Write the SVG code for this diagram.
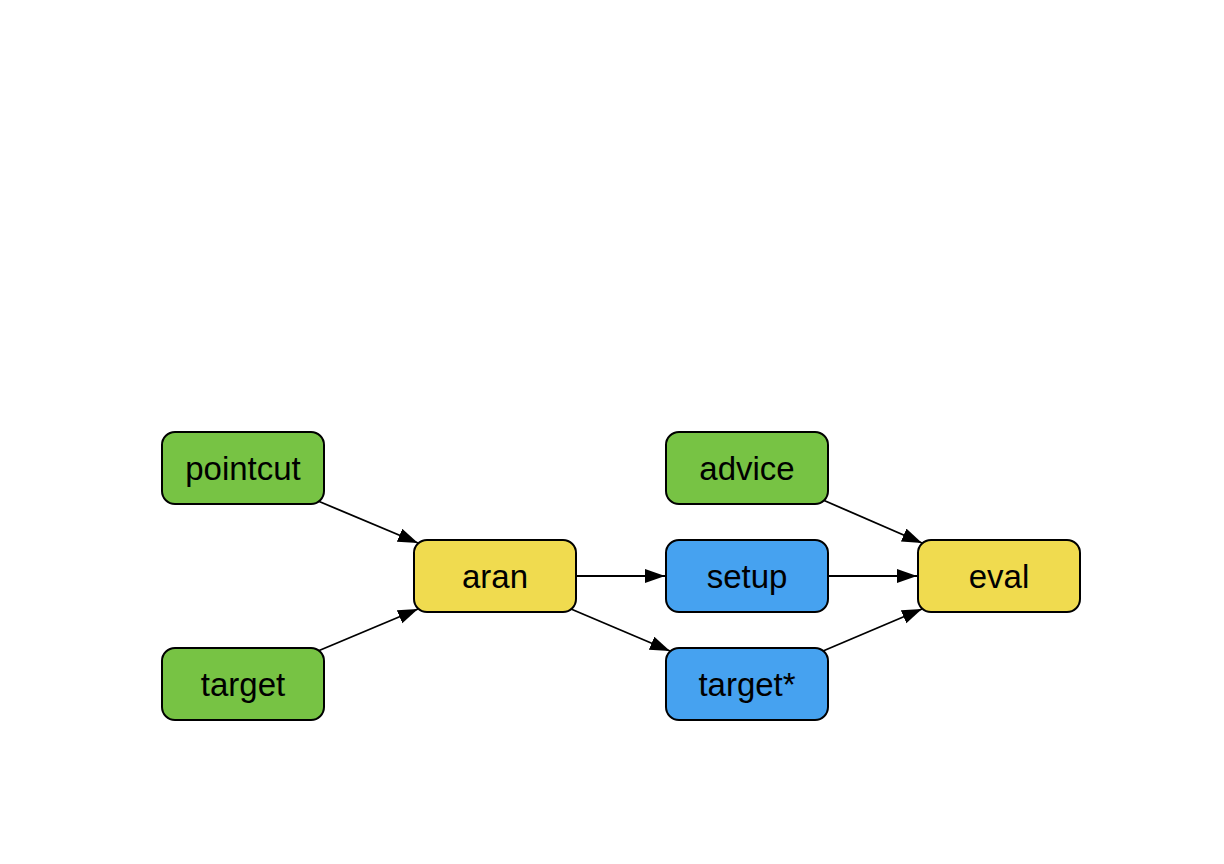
<svg xmlns="http://www.w3.org/2000/svg" width="1224" height="864" viewBox="0 0 1224 864">
<style>
.n{stroke:#000;stroke-width:2}
.g{fill:#77C344}
.y{fill:#F0DB4F}
.b{fill:#46A2F0}
.t{font-family:"Liberation Sans",Arial,sans-serif;font-size:33px;fill:#000;text-anchor:middle}
.e{stroke:#000;stroke-width:1.8;fill:none;marker-end:url(#ah)}
</style>
<defs>
<marker id="ah" markerWidth="22" markerHeight="15" refX="20" refY="7" orient="auto" markerUnits="userSpaceOnUse">
<path d="M0,0 L20,7 L0,14 Z" fill="#000"/>
</marker>
</defs>
<rect width="1224" height="864" fill="#fff"/>
<g id="connectors">
<line class="e" x1="318" y1="501" x2="418" y2="543"/>
<line class="e" x1="318" y1="651" x2="418" y2="609"/>
<line class="e" x1="576" y1="576" x2="665" y2="576"/>
<line class="e" x1="571" y1="609" x2="670" y2="651"/>
<line class="e" x1="828" y1="576" x2="917" y2="576"/>
<line class="e" x1="823" y1="500" x2="922" y2="543"/>
<line class="e" x1="823" y1="651" x2="922" y2="609"/>
</g>
<g id="pointcut"><rect class="n g" x="162" y="432" width="162" height="72" rx="13"/><text class="t" x="243" y="480">pointcut</text></g>
<g id="target"><rect class="n g" x="162" y="648" width="162" height="72" rx="13"/><text class="t" x="243" y="696">target</text></g>
<g id="aran"><rect class="n y" x="414" y="540" width="162" height="72" rx="13"/><text class="t" x="495" y="588">aran</text></g>
<g id="advice"><rect class="n g" x="666" y="432" width="162" height="72" rx="13"/><text class="t" x="747" y="480">advice</text></g>
<g id="setup"><rect class="n b" x="666" y="540" width="162" height="72" rx="13"/><text class="t" x="747" y="588">setup</text></g>
<g id="target-star"><rect class="n b" x="666" y="648" width="162" height="72" rx="13"/><text class="t" x="747" y="696">target*</text></g>
<g id="eval"><rect class="n y" x="918" y="540" width="162" height="72" rx="13"/><text class="t" x="999" y="588">eval</text></g>
</svg>
